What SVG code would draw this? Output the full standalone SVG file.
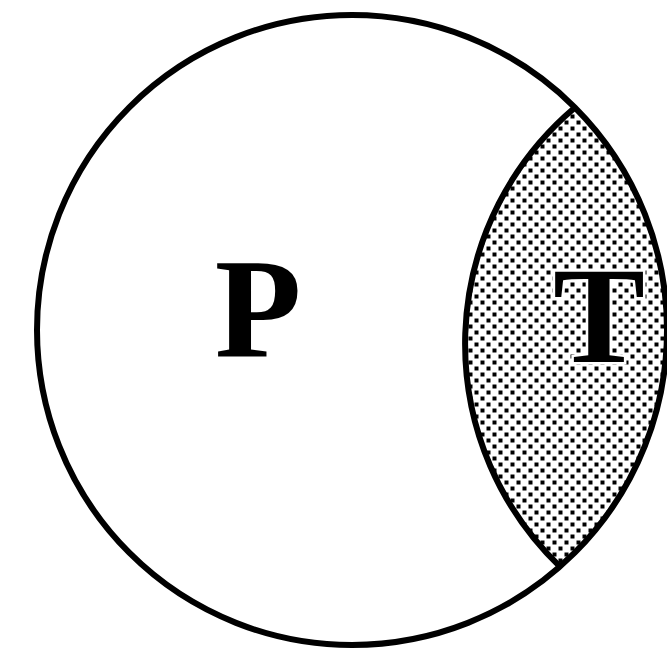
<svg xmlns="http://www.w3.org/2000/svg" width="667" height="660" viewBox="0 0 667 660">
  <style>
    .line { fill: none; stroke: #000; stroke-width: 6; }
    .lbl { font-family: "Liberation Serif", "Times New Roman", serif; font-weight: bold; fill: #000; text-anchor: middle; }
  </style>
  <defs>
    <pattern id="dots" patternUnits="userSpaceOnUse" width="12" height="12">
      <rect x="0.5" y="0.5" width="4" height="4" fill="#000"/>
      <rect x="6.5" y="6.5" width="4" height="4" fill="#000"/>
    </pattern>
  </defs>
  <rect width="667" height="660" fill="#fff"/>
  <g id="T">
    <path d="M575,107.5 A309,309 0 0 0 560,566.6 A315,315 0 0 0 575,107.5 Z" fill="url(#dots)"/>
    <text class="lbl" x="599" y="362" font-size="138" stroke="#fff" stroke-width="5" paint-order="stroke">T</text>
    <path class="line" d="M575,107.5 A309,309 0 0 0 560,566.6"/>
  </g>
  <g id="P">
    <circle class="line" cx="352" cy="330" r="315"/>
    <text class="lbl" x="258" y="357" font-size="142">P</text>
  </g>
</svg>
